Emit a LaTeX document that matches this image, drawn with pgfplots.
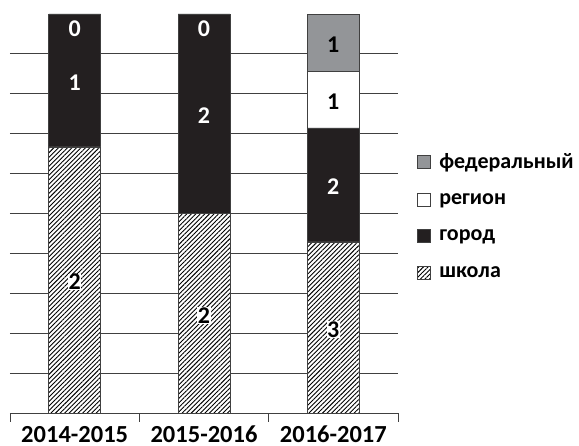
\documentclass[border=0pt]{standalone}
\usepackage{fontspec}
\setmainfont{Carlito}
\usepackage{pgfplots}
\pgfplotsset{compat=1.18}
\usetikzlibrary{patterns.meta}
\definecolor{citycol}{HTML}{231F20}
\definecolor{fedcol}{HTML}{939598}
\definecolor{bdr}{HTML}{404040}
\definecolor{gridcol}{HTML}{404040}

% share of each year's total, in percent (lab = count shown on the bar)
\pgfplotstableread{
x y lab
0 66.667 2
1 50.000 2
2 42.857 3
}\school
\pgfplotstableread{
x y lab
0 33.333 1
1 50.000 2
2 28.571 2
}\city
\pgfplotstableread{
x y lab
0 0 0
1 0 0
2 14.286 1
}\region
\pgfplotstableread{
x y lab
0 0 {}
1 0 {}
2 14.286 1
}\federal
% zero-height region segments sit at the top of the stack (100 %)
\pgfplotstableread{
x y lab
0 100 0
1 100 0
}\zerolabels

\begin{document}
\begin{tikzpicture}
\path[use as bounding box] (0,0) rectangle (579pt,446pt);
\begin{axis}[
  at={(10pt,33pt)}, anchor=south west,
  scale only axis, width=388pt, height=399pt,
  ybar stacked, bar width=0.4,
  xmin=-0.5, xmax=2.5, ymin=0, ymax=100,
  axis lines*=left,
  y axis line style={draw=none},
  x axis line style={draw=bdr, line width=0.8pt},
  ytick={10,20,...,90}, yticklabels={}, ytick style={draw=none},
  ymajorgrids, grid style={gridcol, line width=0.8pt},
  xtick={-0.5,0.5,1.5,2.5}, xticklabels={},
  xtick align=outside, xtick pos=bottom,
  x tick style={draw=bdr, line width=0.8pt}, major tick length=9pt,
  extra x ticks={0,1,2}, extra x tick labels={2014-2015,2015-2016,2016-2017},
  extra x tick style={major tick length=0pt,
    x tick label style={font=\bfseries\fontsize{24.5}{26}\selectfont, anchor=base, inner sep=0pt, yshift=-30pt}},
  point meta=explicit symbolic,
  nodes near coords,
  every node near coord/.append style={font=\bfseries\fontsize{24}{26}\selectfont, anchor=center, yshift=-2pt},
  legend style={draw=none, fill=none, at={(1.040,0.494)}, anchor=west,
    font=\bfseries\fontsize{22}{24}\selectfont, row sep=20pt},
  legend cell align=left,
  reverse legend,
  legend image code/.code={\draw[#1] (0pt,-6.5pt) rectangle (13pt,6.5pt); \path (20pt,0pt);},
]
\addplot[draw=bdr, line width=0.6pt, fill=white,
  postaction={pattern={Lines[angle=45,distance=3.2pt,line width=0.9pt]}, pattern color=black},
  every node near coord/.append style={fill=white, inner sep=0.5pt, text=black}]
  table[x=x, y=y, meta=lab] {\school};
\addplot[draw=bdr, line width=0.6pt, fill=citycol,
  every node near coord/.append style={text=white}]
  table[x=x, y=y, meta=lab] {\city};
\addplot[draw=bdr, line width=0.6pt, fill=white,
  every node near coord/.append style={text=black}]
  table[x=x, y=y, meta=lab] {\region};
\addplot[draw=bdr, line width=0.6pt, fill=fedcol,
  every node near coord/.append style={text=black}]
  table[x=x, y=y, meta=lab] {\federal};
\legend{школа, город, регион, федеральный}
\end{axis}
\begin{axis}[
  at={(10pt,33pt)}, anchor=south west,
  scale only axis, width=388pt, height=399pt,
  xmin=-0.5, xmax=2.5, ymin=0, ymax=100,
  hide axis, clip=false,
  point meta=explicit symbolic,
]
\addplot[only marks, mark=none, nodes near coords,
  every node near coord/.append style={font=\bfseries\fontsize{24}{26}\selectfont, text=white, anchor=north, yshift=-3pt}]
  table[x=x, y=y, meta=lab] {\zerolabels};
\end{axis}
\end{tikzpicture}
\end{document}
